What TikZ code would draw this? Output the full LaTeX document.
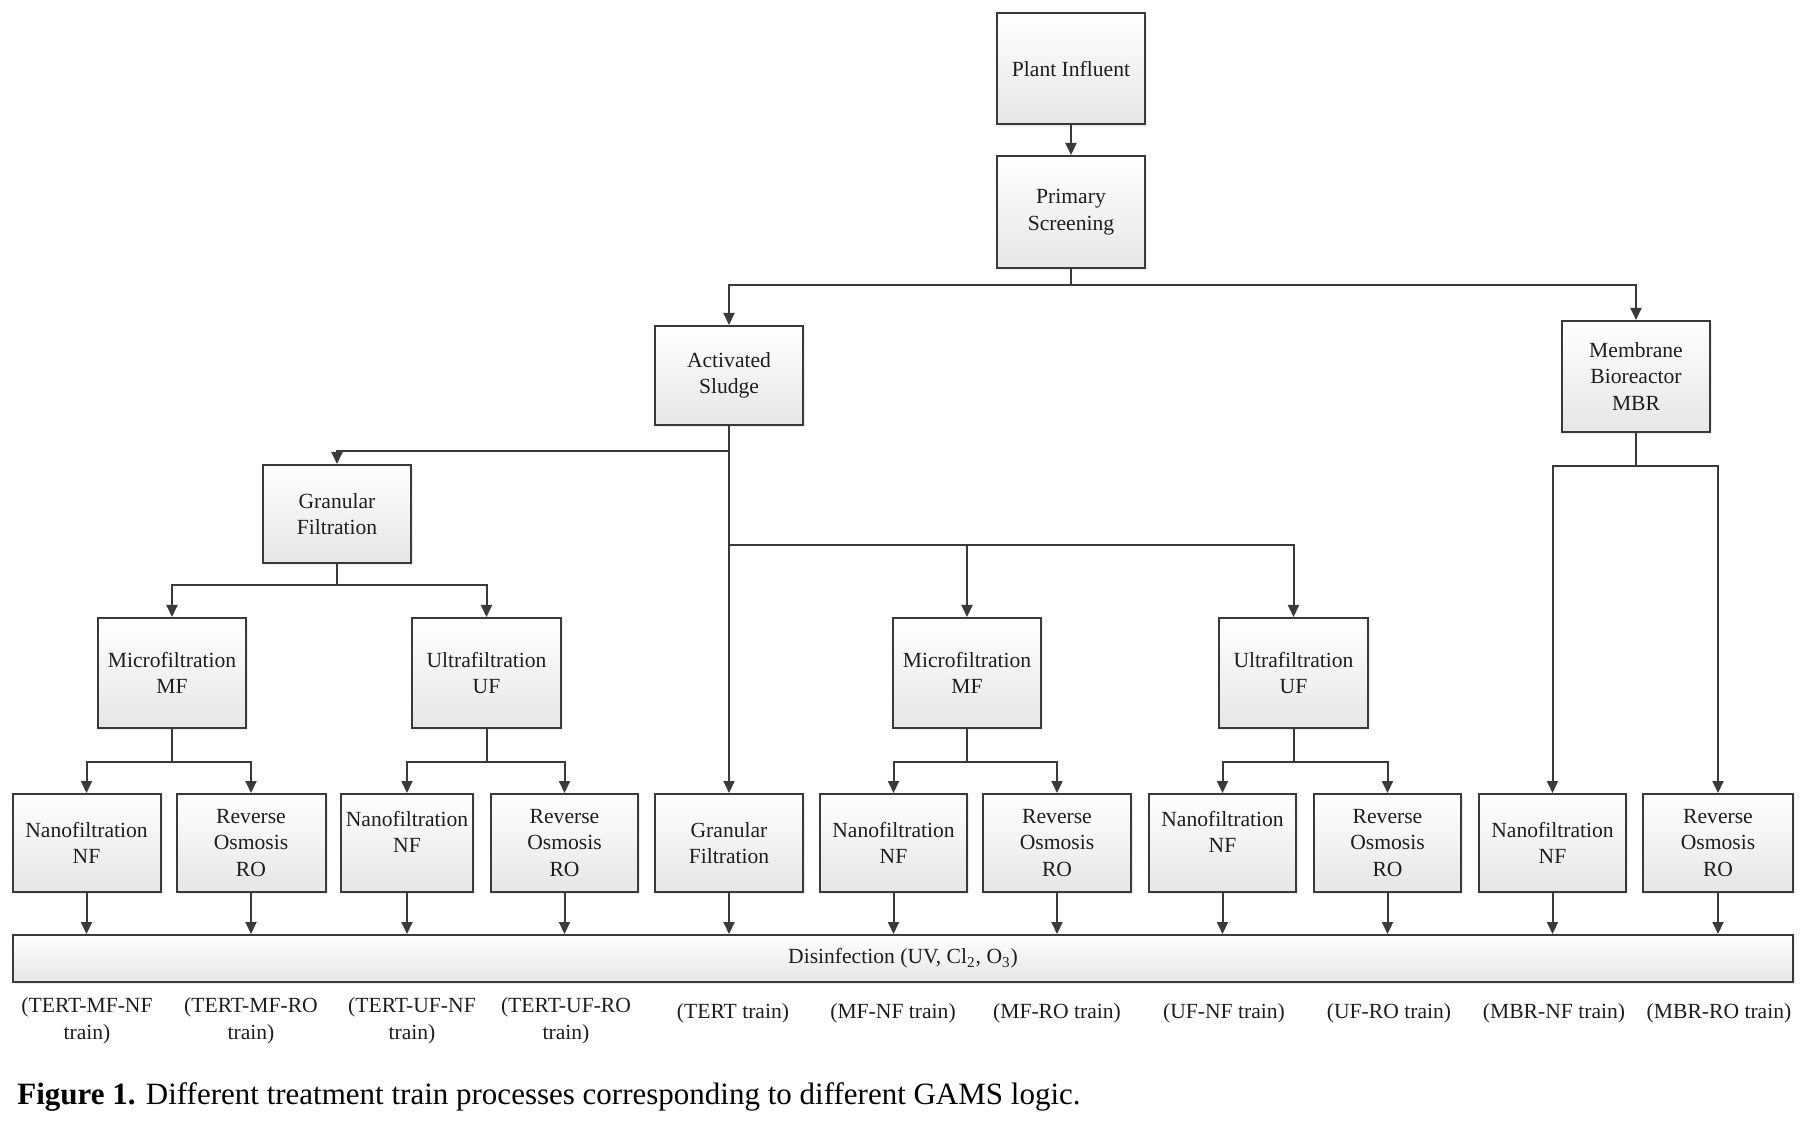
\documentclass[tikz,border=0pt]{standalone}
\usepackage{fontspec}
\setmainfont{Liberation Serif}
\usetikzlibrary{arrows.meta,shadows}
\definecolor{linecol}{HTML}{3A3A3A}
\definecolor{txtcol}{HTML}{1E1E1E}
\definecolor{boxbot}{HTML}{E6E6E6}
\newcommand{\upbox}[1]{\raisebox{4.5pt}[\height][\depth]{\begin{tabular}{@{}c@{}}#1\end{tabular}}}
\begin{document}
\begin{tikzpicture}[x=0.5pt,y=-0.5pt,
  box/.style={draw=linecol, line width=1pt, top color=white, bottom color=boxbot,
    drop shadow={shadow xshift=1.2pt, shadow yshift=-1.2pt, opacity=0.15},
    minimum width=74pt, minimum height=49pt, inner sep=0pt, align=center,
    text=txtcol, font=\fontsize{10.8}{13.3}\selectfont},
  conn/.style={draw=linecol, line width=1pt},
  arr/.style={conn, -{Triangle[length=6pt,width=5.5pt]}},
  lab/.style={align=center, text=txtcol, font=\fontsize{10.8}{13.3}\selectfont, inner sep=0pt}
]
\useasboundingbox (0,0) rectangle (1810,1122);
\fill[white] (0,0) rectangle (1810,1122);

% top
\node[box, minimum height=55.5pt] (pi) at (1071,69) {Plant Influent};
\node[box, minimum height=56pt] (ps) at (1071,212) {Primary\\Screening};
\node[box, minimum height=49.5pt] (as) at (729,375.5) {Activated\\Sludge};
\node[box, minimum height=55.5pt] (mbr) at (1636,376.5) {Membrane\\Bioreactor\\MBR};
\node[box] (gf1) at (337,514) {Granular\\Filtration};

% middle row
\node[box, minimum height=55pt] (mf1) at (172,673) {Microfiltration\\MF};
\node[box, minimum height=55pt, minimum width=74.5pt] (uf1) at (486.5,673) {Ultrafiltration\\UF};
\node[box, minimum height=55pt] (mf2) at (967,673) {Microfiltration\\MF};
\node[box, minimum height=55pt, minimum width=74.5pt] (uf2) at (1293.5,673) {Ultrafiltration\\UF};

% bottom row
\node[box] (nf1) at (86.5,843) {Nanofiltration\\NF};
\node[box, minimum width=74.5pt] (ro1) at (251,843) {Reverse\\Osmosis\\RO};
\node[box, minimum width=66pt] (nf2) at (407,843) {\upbox{Nanofiltration\\NF}};
\node[box, minimum width=73.5pt] (ro2) at (564.5,843) {Reverse\\Osmosis\\RO};
\node[box] (gf2) at (729,843) {Granular\\Filtration};
\node[box, minimum width=73.5pt] (nf3) at (893.5,843) {Nanofiltration\\NF};
\node[box] (ro3) at (1057,843) {Reverse\\Osmosis\\RO};
\node[box, minimum width=73.5pt] (nf4) at (1222.5,843) {\upbox{Nanofiltration\\NF}};
\node[box, minimum width=73.5pt] (ro4) at (1387.5,843) {Reverse\\Osmosis\\RO};
\node[box, minimum width=73.5pt] (nf5) at (1552.5,843) {Nanofiltration\\NF};
\node[box, minimum width=75pt] (ro5) at (1718,843) {Reverse\\Osmosis\\RO};

% disinfection bar
\node[box, minimum width=890pt, minimum height=23.5pt] (dis) at (903,958.5) {\raisebox{-1pt}{Disinfection (UV, Cl\textsubscript{2}, O\textsubscript{3})}};

% connectors
\draw[arr] (pi) -- (ps);
\draw[arr] (ps.south) -- ++(0,16) -| (as.north);
\draw[arr] (ps.south) -- ++(0,16) -| (mbr.north);
\draw[arr] (as.south) -- ++(0,25) -| (gf1.north);
\draw[arr] (as.south) -- (gf2.north);
\draw[arr] (as.south) -- ++(0,119) -| (mf2.north);
\draw[arr] (as.south) -- ++(0,119) -| (uf2.north);
\draw[arr] (gf1.south) -- ++(0,21) -| (mf1.north);
\draw[arr] (gf1.south) -- ++(0,21) -| (uf1.north);
\draw[arr] (mf1.south) -- ++(0,33) -| (nf1.north);
\draw[arr] (mf1.south) -- ++(0,33) -| (ro1.north);
\draw[arr] (uf1.south) -- ++(0,33) -| (nf2.north);
\draw[arr] (uf1.south) -- ++(0,33) -| (ro2.north);
\draw[arr] (mf2.south) -- ++(0,33) -| (nf3.north);
\draw[arr] (mf2.south) -- ++(0,33) -| (ro3.north);
\draw[arr] (uf2.south) -- ++(0,33) -| (nf4.north);
\draw[arr] (uf2.south) -- ++(0,33) -| (ro4.north);
\draw[arr] (mbr.south) -- ++(0,33) -| (nf5.north);
\draw[arr] (mbr.south) -- ++(0,33) -| (ro5.north);
\foreach \b in {nf1,ro1,nf2,ro2,gf2,nf3,ro3,nf4,ro4,nf5,ro5}
  \draw[arr] (\b.south) -- (\b.south |- dis.north);

% train labels
\node[lab] (l1) at (87,1021) {(TERT-MF-NF\\train)};
\node[lab] (l2) at (251,1021) {(TERT-MF-RO\\train)};
\node[lab] (l3) at (412,1021) {(TERT-UF-NF\\train)};
\node[lab] (l4) at (566,1021) {(TERT-UF-RO\\train)};
\node[lab] (l5) at (733,1013) {(TERT train)};
\node[lab] (l6) at (893,1013) {(MF-NF train)};
\node[lab] (l7) at (1057,1013) {(MF-RO train)};
\node[lab] (l8) at (1224,1013) {(UF-NF train)};
\node[lab] (l9) at (1389,1013) {(UF-RO train)};
\node[lab] (l10) at (1554,1013) {(MBR-NF train)};
\node[lab] (l11) at (1719,1013) {(MBR-RO train)};

% caption
\node[anchor=base west, inner sep=0pt, text=black, font=\fontsize{15.5}{18}\selectfont] (cap) at (17,1104)
  {\textbf{Figure 1.} Different treatment train processes corresponding to different GAMS logic.};
\end{tikzpicture}
\end{document}
